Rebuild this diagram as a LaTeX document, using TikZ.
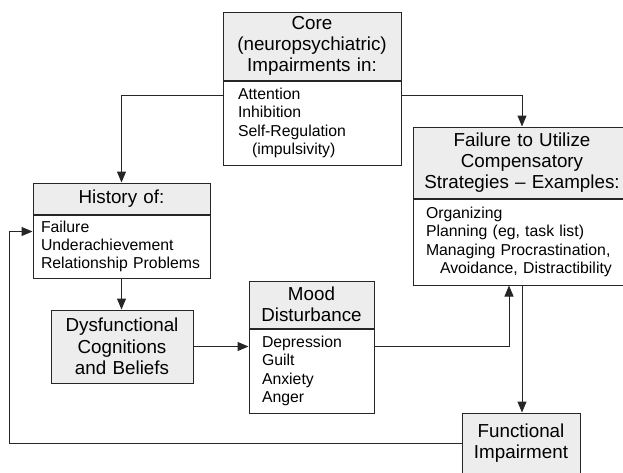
\documentclass[tikz,border=0pt]{standalone}
\usepackage{fontspec}
\setmainfont{Liberation Sans}
\usepackage{tikz}
\usetikzlibrary{arrows.meta,positioning,shapes}
\newcommand{\hdfont}{\fontsize{18.8}{21.3}\selectfont}
\newcommand{\lsfont}{\fontsize{15.8}{18.3}\selectfont}
\newcommand{\ind}{\hspace*{14pt}}
\tikzstyle{title}=[rectangle,draw=black!85,line width=1pt,fill=black!7,align=center,font=\hdfont,inner sep=0pt]
\tikzstyle{items}=[rectangle,draw=black!85,line width=1pt,fill=white,align=left,font=\lsfont,inner xsep=13pt,inner ysep=0pt]
\tikzstyle{flow}=[line width=1pt,draw=black!85,-{Triangle[length=11pt,width=9pt]}]

\begin{document}
\begin{tikzpicture}[x=1pt,y=-1pt]
            \useasboundingbox (0,0) rectangle (623,472);
            \clip (0,0) rectangle (623,472);

            % core impairments
            \node[title,text width=178pt,minimum height=68pt] (core) at (312,46) {Core\\(neuropsychiatric)\\Impairments in:};
            \node[items,text width=148pt,inner xsep=15pt,minimum height=84pt] (corelist) [below=0pt of core]
                {Attention\\Inhibition\\Self-Regulation\\\ind(impulsivity)};

            % history
            \node[title,text width=177pt,minimum height=31pt] (hist) at (121.5,198.5) {History of:};
            \node[items,text width=161pt,inner xsep=8pt,minimum height=63pt] (histlist) [below=0pt of hist]
                {Failure\\Underachievement\\Relationship~Problems};

            \node[title,text width=142pt,minimum height=73pt] (dys) at (122,346.5) {Dysfunctional\\Cognitions\\and Beliefs};

            % mood
            \node[title,text width=125pt,minimum height=47pt] (mood) at (311.5,304.5) {Mood\\Disturbance};
            \node[items,text width=99pt,minimum height=84pt] (moodlist) [below=0pt of mood]
                {Depression\\Guilt\\Anxiety\\Anger};

            % compensatory strategies
            \node[title,text width=218pt,minimum height=71pt] (fail) at (522,162.5) {Failure to Utilize\\Compensatory\\Strategies -- Examples:};
            \node[items,text width=192pt,minimum height=86pt] (faillist) [below=0pt of fail]
                {Organizing\\Planning (eg, task list)\\Managing Procrastination,\\\ind Avoidance, Distractibility};

            \node[title,text width=118pt,minimum height=60pt] (func) at (521,443) {Functional\\Impairment};

            \draw[flow] ([yshift=-15pt]corelist.north west) -| (hist.north);
            \draw[flow] ([yshift=-15pt]corelist.north east) -| (fail.north);
            \draw[flow] (histlist.south) -- (histlist.south |- dys.north);
            \draw[flow] (dys.east) -- (dys.east -| moodlist.west);
            \draw[flow] (moodlist.east |- dys.east) -| ([xshift=-13pt]faillist.south);
            \draw[flow] (faillist.south) -- (faillist.south |- func.north);
            \draw[flow] (func.west) -| ([xshift=-23pt,yshift=-17pt]histlist.north west)
                -- ([yshift=-17pt]histlist.north west);

        \end{tikzpicture}
\end{document}
